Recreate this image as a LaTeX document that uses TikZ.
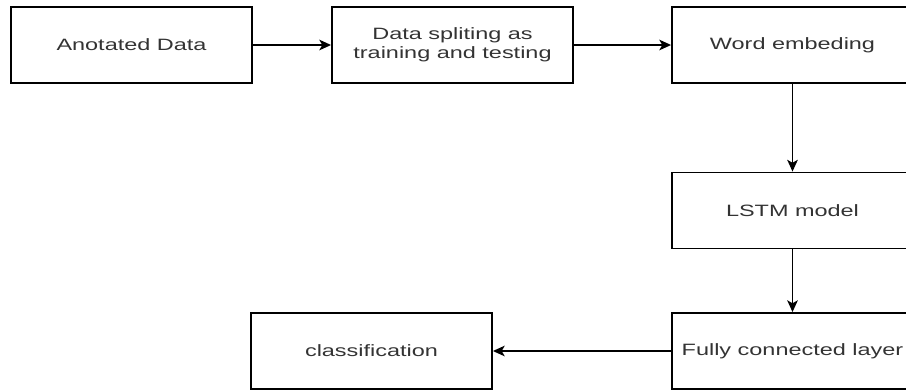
\documentclass[tikz,border=0pt]{standalone}
\usepackage{fontspec}
\setmainfont{Liberation Sans}
\usepackage{graphicx}
\usetikzlibrary{arrows.meta}
\newcommand{\stretchtext}[1]{\scalebox{1.43}[1]{#1}}

\begin{document}
\begin{tikzpicture}
      [x = 0.03cm, y = -0.03cm,
      flow/.style = {-{Stealth[length = 10pt, width = 9pt, inset = 2.5pt]}, line width = 1.5pt},
      box/.style = {
         draw,
         line width = 1.6pt,
         minimum width = 7.23cm,
         minimum height = 2.28cm,
         inner sep = 0pt,
         align = center,
         text = black!80,
         font = \fontsize{14}{16}\selectfont
      }]

      \clip (0, 0) rectangle (906, 390);

      \node[box] (ann) at (131.5, 45) {\stretchtext{Anotated Data}};
      \node[box] (split) at (452.5, 45) {\stretchtext{Data spliting as}\\\stretchtext{training and testing}};
      \node[box] (embed) at (792.5, 45) {\stretchtext{Word embeding}};
      \node[box] (lstm) at (792.5, 210.5) {\stretchtext{LSTM model}};
      \node[box] (fc) at (792.5, 351) {\stretchtext{Fully connected layer}};
      \node[box] (cls) at (371.5, 351) {\stretchtext{classification}};

      \draw[flow] (ann) -- (split);
      \draw[flow] (split) -- (embed);
      \draw[flow] (embed) -- (lstm);
      \draw[flow] (lstm) -- (fc);
      \draw[flow] (fc) -- (cls);

   \end{tikzpicture}
\end{document}
